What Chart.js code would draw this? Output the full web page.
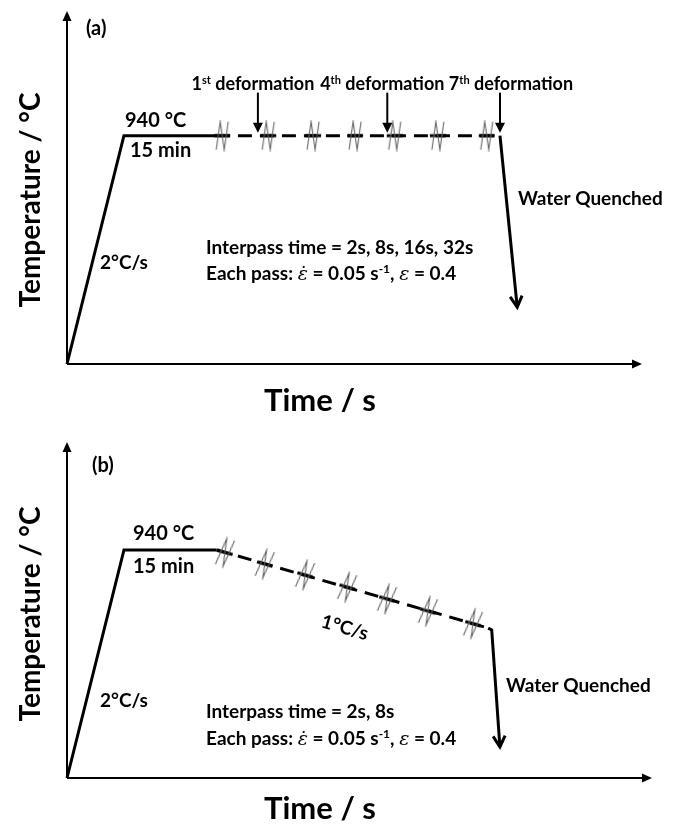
<!DOCTYPE html>
<html>
<head>
<meta charset="utf-8">
<script src="https://cdn.jsdelivr.net/npm/chart.js@4.4.0/dist/chart.umd.min.js"></script>
<style>
  html, body { margin: 0; padding: 0; background: #fff; }
  .panel { position: relative; width: 686px; height: 412px; }
</style>
</head>
<body>
<div class="panel"><canvas id="chartA" width="686" height="412"></canvas></div>
<div class="panel"><canvas id="chartB" width="686" height="412"></canvas></div>
<script>
// (a) isothermal passes at 940 C, then water quench
var timeA = [0, 9.9, 25.9, 75.3, 78.3];
var tempA = [0, 940, 940, 940, 234];
var passTimeA = [27.0, 35.0, 42.8, 50.1, 57.0, 64.5, 73.0];
var passTempA = [940, 940, 940, 940, 940, 940, 940];
var deformTimeA = [33.2, 55.7, 75.3];
var deformNumA = ['1', '4', '7'];
var deformSupA = ['st', 'th', 'th'];
var yMaxA = 1453;

// (b) passes during cooling at 1 C/s, then water quench
var timeB = [0, 9.74, 25.6, 72.0, 72.6, 74.0];
var tempB = [0, 940, 940, 618, 610, 128];
var passTimeB = [27.0, 33.8, 40.7, 47.9, 54.7, 61.7, 69.4];
var passTempB = [930, 882, 837, 787, 738, 688, 636];
var yMaxB = 1385;

var FONT = 'Lato, "Open Sans", sans-serif';
var MATH = '"DejaVu Serif", "Liberation Serif", serif';
var TXT = 19;

function B(t, s) { return { t: t, font: 'bold ' + s + 'px ' + FONT, size: s }; }
function Sup(t, s) { return { t: t, font: 'bold ' + Math.round(s * 0.62) + 'px ' + FONT, size: s, dy: -s * 0.36 }; }
function I(t, s) { return { t: t, font: 'italic ' + s + 'px ' + MATH, size: s }; }

function drawRich(ctx, parts, x, y, align, angle) {
  ctx.save();
  ctx.translate(x, y);
  if (angle) ctx.rotate(angle * Math.PI / 180);
  ctx.textBaseline = 'alphabetic';
  ctx.textAlign = 'left';
  ctx.fillStyle = '#000';
  var w = 0;
  parts.forEach(function (p) { ctx.font = p.font; p.w = ctx.measureText(p.t).width; w += p.w; });
  var cx = align === 'center' ? -w / 2 : 0;
  var base = parts[0].size * 0.36;
  parts.forEach(function (p) {
    ctx.font = p.font;
    ctx.fillText(p.t, cx, base + (p.dy || 0));
    cx += p.w;
  });
  ctx.restore();
}

function tri(ctx, x, y, dx, dy, len, half) {
  var bx = x - dx * len, by = y - dy * len;
  ctx.beginPath();
  ctx.moveTo(x, y);
  ctx.lineTo(bx - dy * half, by + dx * half);
  ctx.lineTo(bx + dy * half, by - dx * half);
  ctx.closePath();
  ctx.fill();
}

// break mark drawn at every pass
function breakMark() {
  var c = document.createElement('canvas');
  c.width = 22; c.height = 32;
  var g = c.getContext('2d');
  g.strokeStyle = '#000'; g.lineWidth = 3;
  g.beginPath(); g.moveTo(3, 16); g.lineTo(19, 16); g.stroke();
  g.strokeStyle = '#666'; g.lineWidth = 1.1;
  g.beginPath(); g.moveTo(5, 30); g.lineTo(9, 2); g.lineTo(13, 30); g.lineTo(17, 2); g.stroke();
  return c;
}

function schematic(o) {
  return {
    id: 'schematic',
    beforeDatasetsDraw: function (chart) {
      var a = chart.chartArea, ctx = chart.ctx;
      ctx.save();
      ctx.strokeStyle = '#000'; ctx.fillStyle = '#000'; ctx.lineWidth = 2;
      ctx.beginPath();
      ctx.moveTo(a.left, a.bottom); ctx.lineTo(a.left, a.top + 6);
      ctx.moveTo(a.left, a.bottom); ctx.lineTo(a.right - 6, a.bottom);
      ctx.stroke();
      tri(ctx, a.left, a.top, 0, -1, 10, 4.5);
      tri(ctx, a.right, a.bottom, 1, 0, 10, 4.5);
      ctx.restore();
    },
    afterDatasetsDraw: function (chart) {
      var ctx = chart.ctx, xs = chart.scales.x, ys = chart.scales.y;
      var pts = chart.getDatasetMeta(1).data;
      var tip = pts[pts.length - 1], prev = pts[pts.length - 2];
      var dx = tip.x - prev.x, dy = tip.y - prev.y, L = Math.sqrt(dx * dx + dy * dy);
      dx /= L; dy /= L;
      ctx.save();
      ctx.strokeStyle = '#000'; ctx.fillStyle = '#000';
      ctx.lineWidth = 3;
      ctx.beginPath();
      ctx.moveTo(tip.x - dx * 11 - dy * 6, tip.y - dy * 11 + dx * 6);
      ctx.lineTo(tip.x, tip.y);
      ctx.lineTo(tip.x - dx * 11 + dy * 6, tip.y - dy * 11 - dx * 6);
      ctx.stroke();

      (o.deformTime || []).forEach(function (t, i) {
        var x = xs.getPixelForValue(t), yb = ys.getPixelForValue(940) - 3;
        ctx.lineWidth = 2;
        ctx.beginPath(); ctx.moveTo(x, yb - 40); ctx.lineTo(x, yb - 8); ctx.stroke();
        tri(ctx, x, yb, 0, 1, 10, 5);
        drawRich(ctx, [B(o.deformNum[i], 18), Sup(o.deformSup[i], 18), B(' deformation', 18)],
          x + o.deformShift[i], yb - 49, 'center');
      });
      ctx.restore();

      o.labels.forEach(function (l) { drawRich(ctx, l.parts, l.x, l.y, l.align, l.angle); });
    }
  };
}

var mark = breakMark();

function profileChart(id, o) {
  var pts = o.time.map(function (t, i) { return { x: t, y: o.temp[i] }; });
  var passes = o.passTime.map(function (t, i) { return { x: t, y: o.passTemp[i] }; });
  return new Chart(document.getElementById(id), {
    type: 'scatter',
    data: {
      datasets: [
        { label: 'passes', data: passes, pointStyle: mark, pointRotation: o.rot, pointRadius: 10, showLine: false, clip: false },
        { label: 'profile', data: pts, showLine: true, borderColor: '#000', borderWidth: 3, pointRadius: 0, clip: false,
          borderJoinStyle: 'miter',
          segment: { borderDash: function (c) { return o.dashed.indexOf(c.p0DataIndex) >= 0 ? [14, 8] : undefined; } } }
      ]
    },
    options: {
      responsive: false, animation: false, devicePixelRatio: 1, events: [],
      layout: { padding: o.pad },
      scales: {
        x: { type: 'linear', min: 0, max: 100, display: false },
        y: { type: 'linear', min: 0, max: o.yMax, display: false }
      },
      plugins: { legend: { display: false }, tooltip: { enabled: false } }
    },
    plugins: [schematic(o)]
  });
}

function epsLine() {
  return [B('Each pass: ', TXT), I('\u03b5\u0307', TXT), B(' = 0.05 s', TXT), Sup('-1', TXT),
    B(', ', TXT), I('\u03b5', TXT), B(' = 0.4', TXT)];
}

profileChart('chartA', {
  time: timeA, temp: tempA, passTime: passTimeA, passTemp: passTempA, yMax: yMaxA,
  pad: { left: 67, right: 44, top: 10, bottom: 48 }, rot: 0, dashed: [2],
  deformTime: deformTimeA, deformNum: deformNumA, deformSup: deformSupA, deformShift: [-5, -5, 11],
  labels: [
    { parts: [B('(a)', 20)], x: 86, y: 28 },
    { parts: [B('Temperature / \u00b0C', 28)], x: 30, y: 200, align: 'center', angle: -90 },
    { parts: [B('Time / s', 31)], x: 320, y: 400, align: 'center' },
    { parts: [B('940 \u00b0C', 20)], x: 125, y: 120 },
    { parts: [B('15 min', 20)], x: 130, y: 150 },
    { parts: [B('2\u00b0C/s', 19)], x: 100, y: 262 },
    { parts: [B('Interpass time = 2s, 8s, 16s, 32s', TXT)], x: 206, y: 247 },
    { parts: epsLine(), x: 206, y: 273 },
    { parts: [B('Water Quenched', TXT)], x: 518, y: 198 }
  ]
});

profileChart('chartB', {
  time: timeB, temp: tempB, passTime: passTimeB, passTemp: passTempB, yMax: yMaxB,
  pad: { left: 67, right: 34, top: 30, bottom: 46 }, rot: 16, dashed: [2],
  labels: [
    { parts: [B('(b)', 20)], x: 92, y: 53 },
    { parts: [B('Temperature / \u00b0C', 28)], x: 30, y: 202, align: 'center', angle: -90 },
    { parts: [B('Time / s', 31)], x: 320, y: 396, align: 'center' },
    { parts: [B('940 \u00b0C', 20)], x: 133, y: 121 },
    { parts: [B('15 min', 20)], x: 133, y: 154 },
    { parts: [B('1\u00b0C/s', 19)], x: 345, y: 215, align: 'center', angle: 16 },
    { parts: [B('2\u00b0C/s', 19)], x: 100, y: 288 },
    { parts: [B('Interpass time = 2s, 8s', TXT)], x: 206, y: 299 },
    { parts: epsLine(), x: 206, y: 326 },
    { parts: [B('Water Quenched', TXT)], x: 506, y: 273 }
  ]
});
</script>
</body>
</html>
